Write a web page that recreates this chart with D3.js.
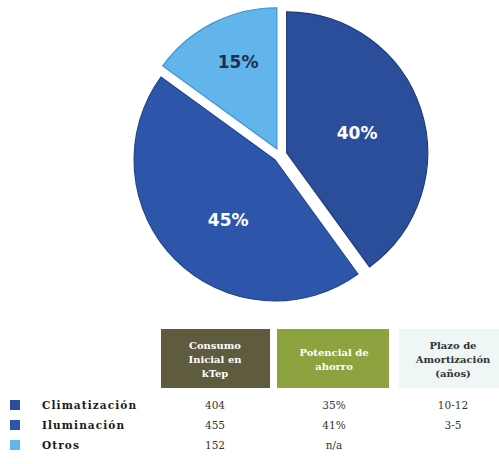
<!DOCTYPE html>
<html>
<head>
<meta charset="utf-8">
<script src="https://cdn.jsdelivr.net/npm/d3@7/dist/d3.min.js"></script>
<style>
  html, body { margin: 0; padding: 0; background: #ffffff; }
  svg { display: block; }
</style>
</head>
<body>
<svg id="chart" width="499" height="464"></svg>
<script>
// Energy use by end use: share of consumption and savings table
const categories = ["Climatización", "Iluminación", "Otros"];
const shares = [40, 45, 15];                 // % of initial consumption
const consumoKtep = ["404", "455", "152"];   // Consumo inicial en kTep
const potencialAhorro = ["35%", "41%", "n/a"];
const plazoAmortizacion = ["10-12", "3-5", ""];
const headers = [
  ["Consumo", "Inicial en", "kTep"],
  ["Potencial de", "ahorro"],
  ["Plazo de", "Amortización", "(años)"]
];

const sliceColors = ["#2b4e9b", "#2d56ab", "#62b5eb"];
const sliceStroke = ["#1f3c7c", "#22448c", "#3f94cf"];
const labelColors = ["#ffffff", "#ffffff", "#1e2f4e"];
// label placement inside each slice: radius factor and angle nudge (degrees)
const labelRadiusFactor = [0.52, 0.54, 0.675];
const labelAngleNudge = [2, -7, 3];

const svg = d3.select("#chart");

// ---- Exploded pie ----
const cx = 280, cy = 155, radius = 141, explode = 7;

const pie = d3.pie().sort(null).value(d => d);
const arcs = pie(shares);
const arc = d3.arc().innerRadius(0).outerRadius(radius);

const pieG = svg.append("g").attr("transform", `translate(${cx},${cy})`);

const slice = pieG.selectAll("g.slice")
  .data(arcs)
  .join("g")
  .attr("class", "slice")
  .attr("transform", d => {
    const mid = (d.startAngle + d.endAngle) / 2;
    return `translate(${Math.sin(mid) * explode},${-Math.cos(mid) * explode})`;
  });

slice.append("path")
  .attr("d", arc)
  .attr("fill", (d, i) => sliceColors[i])
  .attr("stroke", (d, i) => sliceStroke[i])
  .attr("stroke-width", 1.2);

slice.append("text")
  .attr("transform", (d, i) => {
    const mid = (d.startAngle + d.endAngle) / 2 + labelAngleNudge[i] * Math.PI / 180;
    const r = radius * labelRadiusFactor[i];
    return `translate(${Math.sin(mid) * r},${-Math.cos(mid) * r})`;
  })
  .attr("text-anchor", "middle")
  .attr("dominant-baseline", "central")
  .attr("font-family", "DejaVu Sans, Verdana, sans-serif")
  .attr("font-weight", "bold")
  .attr("font-size", 17)
  .attr("fill", (d, i) => labelColors[i])
  .text(d => d.data + "%");

// ---- Table ----
const colX = d3.scalePoint().domain([0, 1, 2]).range([215, 453]);
const rowY = d3.scalePoint().domain(categories).range([405, 445]);

const headBoxes = [
  { x0: 161, x1: 270, fill: "#5e5b3e", text: "#ffffff" },
  { x0: 277, x1: 389, fill: "#8ca340", text: "#ffffff" },
  { x0: 399, x1: 499, fill: "#eef6f6", text: "#333333" }
];

const headG = svg.append("g");
headBoxes.forEach((b, i) => {
  headG.append("rect")
    .attr("x", b.x0).attr("y", 329)
    .attr("width", b.x1 - b.x0).attr("height", 59)
    .attr("fill", b.fill);
  const lines = headers[i];
  const lh = 14;
  const midY = 359;
  lines.forEach((t, j) => {
    headG.append("text")
      .attr("x", colX(i))
      .attr("y", midY + (j - (lines.length - 1) / 2) * lh)
      .attr("text-anchor", "middle")
      .attr("dominant-baseline", "central")
      .attr("font-family", "DejaVu Serif, Liberation Serif, serif")
      .attr("font-weight", "bold")
      .attr("font-size", 10)
      .attr("fill", b.text)
      .text(t);
  });
});

const columns = [consumoKtep, potencialAhorro, plazoAmortizacion];
const bodyG = svg.append("g");

categories.forEach((c, r) => {
  const y = rowY(c);
  bodyG.append("rect")
    .attr("x", 10).attr("y", y - 5)
    .attr("width", 10).attr("height", 10)
    .attr("fill", sliceColors[r]);
  bodyG.append("text")
    .attr("x", 42).attr("y", y)
    .attr("dominant-baseline", "central")
    .attr("font-family", "DejaVu Serif, Liberation Serif, serif")
    .attr("font-weight", "bold")
    .attr("font-size", 10.5)
    .attr("letter-spacing", 1.1)
    .attr("fill", "#1a1a1a")
    .text(c);
  columns.forEach((col, k) => {
    bodyG.append("text")
      .attr("x", colX(k)).attr("y", y)
      .attr("text-anchor", "middle")
      .attr("dominant-baseline", "central")
      .attr("font-family", "DejaVu Serif, Liberation Serif, serif")
      .attr("font-size", 10.5)
      .attr("fill", "#333333")
      .text(col[r]);
  });
});
</script>
</body>
</html>
